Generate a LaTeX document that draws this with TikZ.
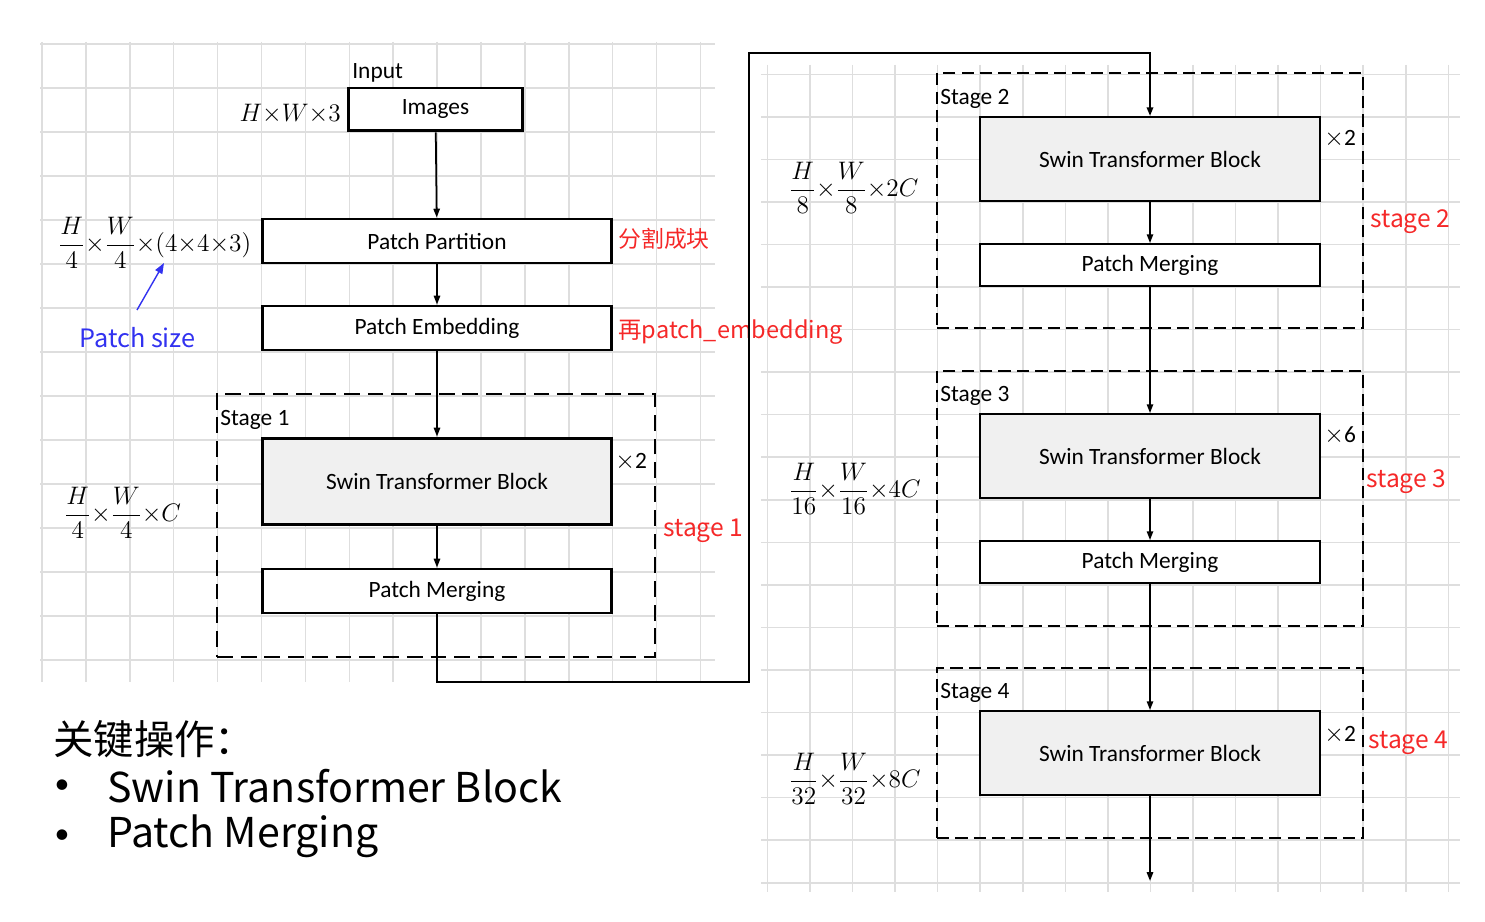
\documentclass[tikz,border=0pt]{standalone}
\usepackage{amsmath}
\usepackage{fontspec}
\setmainfont{Carlito}
\newfontfamily\cjk{Noto Sans CJK SC}
\usetikzlibrary{arrows.meta,positioning}
\definecolor{gridgray}{RGB}{222,222,222}
\definecolor{boxgray}{RGB}{240,240,240}
\definecolor{notered}{RGB}{245,40,40}
\definecolor{noteblue}{RGB}{50,50,240}
\newcommand\blkfont{\fontsize{13.3}{15}\selectfont}
\newcommand\dimfont{\fontsize{13.6}{16}\selectfont}
\newcommand\notefont{\cjk\fontsize{14}{16}\selectfont}

\begin{document}
\begin{tikzpicture}[x=0.02cm,y=-0.02cm,
    gridln/.style={gridgray,line width=0.9pt},
    blk/.style={draw,fill=white,line width=1.7pt,minimum width=7cm,minimum height=0.88cm,inner sep=0pt,font=\blkfont},
    rblk/.style={draw,fill=white,line width=1.1pt,minimum width=6.8cm,minimum height=0.84cm,inner sep=0pt,font=\blkfont},
    swin/.style={fill=boxgray},
    frameL/.style={draw,line width=1.6pt,dash pattern=on 9pt off 4.5pt,inner sep=0pt},
    frameR/.style={draw,line width=1.1pt,dash pattern=on 7pt off 3.5pt,inner sep=0pt,minimum width=8.52cm},
    lbl/.style={font=\blkfont,inner sep=0pt,anchor=west},
    dim/.style={font=\dimfont,inner sep=0pt,anchor=west},
    note/.style={font=\notefont,text=notered,inner sep=0pt,anchor=west},
    flow/.style={-{Triangle[length=5pt,width=3.6pt]},line width=1pt},
    loopln/.style={-{Triangle[length=5pt,width=3.6pt]},line width=1.5pt}]
  \useasboundingbox (0,0) rectangle (1485,922);
  % grids
  \foreach \i in {0,...,15}
  \draw[gridln] (42+43.9*\i,42) -- (42+43.9*\i,682);
  \foreach \j in {0,...,14}
  \draw[gridln] (40,44+44*\j) -- (715,44+44*\j);
  \foreach \i in {0,...,16}
  \draw[gridln] (767.5+42.55*\i,65) -- (767.5+42.55*\i,892);
  \foreach \j in {0,...,19}
  \draw[gridln] (761,74.3+42.55*\j) -- (1460,74.3+42.55*\j);

  % left column
  \node[frameL,minimum width=8.76cm,minimum height=5.26cm] (fr1) at (436,525.5) {};
  \node[lbl] (inp) at (352,73) {Input};
  \node[blk,minimum width=3.5cm,minimum height=0.86cm] (img) at (435.5,109.5) {\raisebox{-2pt}{Images}};
  \node[dim,anchor=east] (hw3) at (341,114) {$H{\times}W{\times}3$};
  \node[blk] (pp) at (437,241) {Patch Partition};
  \node[blk] (pe) at (437,328) {Patch Embedding};
  \node[blk,swin,minimum height=1.74cm] (stb1) at (437,481.5) {Swin Transformer Block};
  \node[blk] (pm1) at (437,591) {Patch Merging};
  \node[lbl] (st1) at (220,420) {Stage 1};
  \node[lbl] (rep1) at (615,462) {$\times$2};
  \node[note] (n1) at (663,531) {stage 1};
  \node[note,font=\cjk\fontsize{13}{15}\selectfont] (cut) at (618,239) {分割成块};
  \node[note,font=\cjk\fontsize{13.4}{15}\selectfont] (emb) at (618,332) {再patch\_embedding};
  \node[dim] (dpp) at (58,243) {$\dfrac{H}{4}{\times}\dfrac{W}{4}{\times}(4{\times}4{\times}3)$};
  \node[dim] (d1) at (64,513) {$\dfrac{H}{4}{\times}\dfrac{W}{4}{\times}C$};
  \node[note,text=noteblue,font=\cjk\fontsize{14.4}{17}\selectfont] (psz) at (79,338) {Patch size};
  \coordinate (pszTail) at (137,310);
  \coordinate (pszHead) at (164,263);
  \draw[noteblue,line width=0.8pt,-{Triangle[length=6pt,width=4.5pt]}] (pszTail) -- (pszHead);

  \draw[flow] (img) -- (pp);
  \draw[flow] (pp) -- (pe);
  \draw[flow] (pe) -- (stb1);
  \draw[flow] (stb1) -- (pm1);
  \coordinate (turnA) at (749,682);
  \coordinate (turnB) at (749,53);

  % right column
  \node[frameR,minimum height=5.1cm] (fr2) at (1150,200.5) {};
  \node[frameR,minimum height=5.1cm] (fr3) at (1150,498.5) {};
  \node[frameR,minimum height=3.4cm] (fr4) at (1150,753) {};
  \node[rblk,swin,minimum height=1.68cm] (stb2) at (1150,159) {Swin Transformer Block};
  \node[rblk] (pm2) at (1150,265) {Patch Merging};
  \node[rblk,swin,minimum height=1.68cm] (stb3) at (1150,456) {Swin Transformer Block};
  \node[rblk] (pm3) at (1150,562) {Patch Merging};
  \node[rblk,swin,minimum height=1.68cm] (stb4) at (1150,753) {Swin Transformer Block};
  \node[lbl] (st2) at (940,99) {Stage 2};
  \node[lbl] (st3) at (940,396) {Stage 3};
  \node[lbl] (st4) at (940,693) {Stage 4};
  \node[lbl] (rep2) at (1324,139) {$\times$2};
  \node[lbl] (rep3) at (1324,436) {$\times$6};
  \node[lbl] (rep4) at (1324,735) {$\times$2};
  \node[note] (n2) at (1370,222) {stage 2};
  \node[note] (n3) at (1366,482) {stage 3};
  \node[note] (n4) at (1368,743) {stage 4};
  \node[dim] (d2) at (789,188) {$\dfrac{H}{8}{\times}\dfrac{W}{8}{\times}2C$};
  \node[dim] (d3) at (789,489) {$\dfrac{H}{16}{\times}\dfrac{W}{16}{\times}4C$};
  \node[dim] (d4) at (789,779) {$\dfrac{H}{32}{\times}\dfrac{W}{32}{\times}8C$};
  \coordinate (outp) at (1150,881);

  \draw[loopln] (pm1.south) |- (turnA) -- (turnB) -| (stb2.north);
  \draw[flow] (stb2) -- (pm2);
  \draw[flow] (pm2) -- (stb3);
  \draw[flow] (stb3) -- (pm3);
  \draw[flow] (pm3) -- (stb4);
  \draw[flow] (stb4) -- (outp);

  % key operations
  \node[anchor=west,inner sep=0pt,font=\cjk\fontsize{23}{26}\selectfont] (key) at (53,739) {关键操作：};
  \node[inner sep=0pt,font=\fontsize{17}{20}\selectfont] (b1) at (62,787) {•};
  \node[anchor=west,inner sep=0pt,font=\cjk\fontsize{23.4}{28}\selectfont] (op1) at (107,786) {Swin Transformer Block};
  \node[inner sep=0pt,font=\fontsize{17}{20}\selectfont] (b2) at (62,837) {•};
  \node[anchor=west,inner sep=0pt,font=\cjk\fontsize{23.4}{28}\selectfont] (op2) at (107,836) {Patch Merging};
\end{tikzpicture}
\end{document}
